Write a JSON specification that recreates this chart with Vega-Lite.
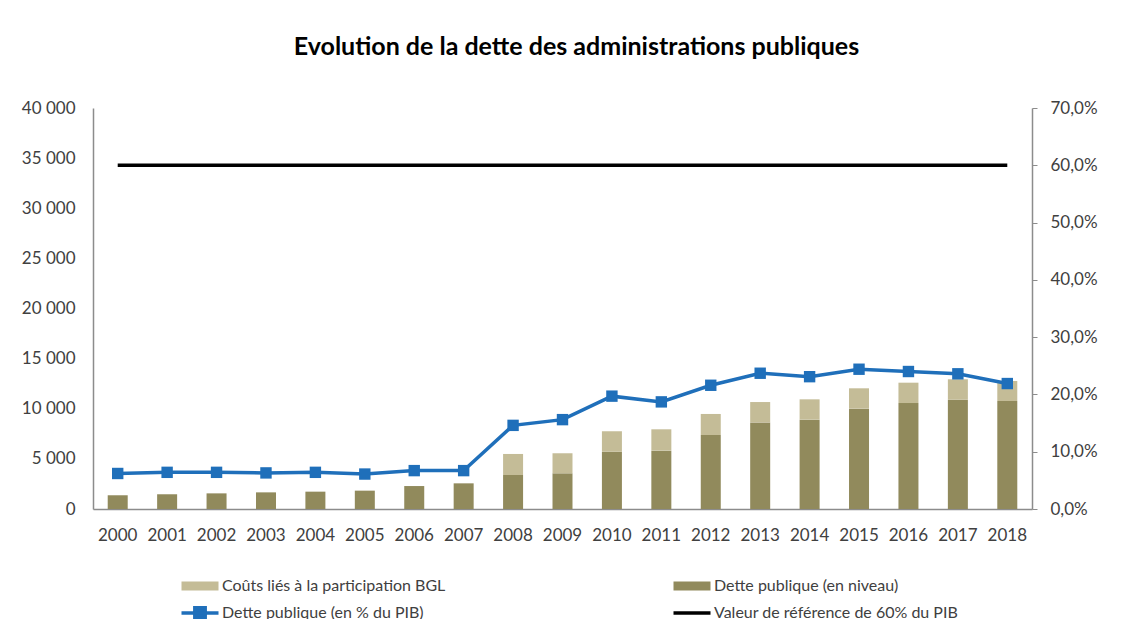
{
  "$schema": "https://vega.github.io/schema/vega-lite/v6.json",
  "width": 939,
  "height": 401,
  "autosize": {"type": "none"},
  "padding": {"left": 93, "top": 108, "right": 94, "bottom": 110},
  "background": "white",
  "config": {"view": {"stroke": null}, "font": "Lato"},
  "title": {
    "text": "Evolution de la dette des administrations publiques",
    "font": "Lato",
    "fontSize": 25,
    "fontWeight": "bold",
    "color": "#000000",
    "anchor": "middle",
    "offset": 39,
    "dx": 14
  },
  "datasets": {
    "bars": [
      {"year": "2000", "series": "Dette publique (en niveau)", "value": 1370, "ord": 1},
      {"year": "2001", "series": "Dette publique (en niveau)", "value": 1470, "ord": 1},
      {"year": "2002", "series": "Dette publique (en niveau)", "value": 1560, "ord": 1},
      {"year": "2003", "series": "Dette publique (en niveau)", "value": 1660, "ord": 1},
      {"year": "2004", "series": "Dette publique (en niveau)", "value": 1730, "ord": 1},
      {"year": "2005", "series": "Dette publique (en niveau)", "value": 1830, "ord": 1},
      {"year": "2006", "series": "Dette publique (en niveau)", "value": 2290, "ord": 1},
      {"year": "2007", "series": "Dette publique (en niveau)", "value": 2560, "ord": 1},
      {"year": "2008", "series": "Dette publique (en niveau)", "value": 3390, "ord": 1},
      {"year": "2009", "series": "Dette publique (en niveau)", "value": 3560, "ord": 1},
      {"year": "2010", "series": "Dette publique (en niveau)", "value": 5720, "ord": 1},
      {"year": "2011", "series": "Dette publique (en niveau)", "value": 5820, "ord": 1},
      {"year": "2012", "series": "Dette publique (en niveau)", "value": 7380, "ord": 1},
      {"year": "2013", "series": "Dette publique (en niveau)", "value": 8640, "ord": 1},
      {"year": "2014", "series": "Dette publique (en niveau)", "value": 8910, "ord": 1},
      {"year": "2015", "series": "Dette publique (en niveau)", "value": 10010, "ord": 1},
      {"year": "2016", "series": "Dette publique (en niveau)", "value": 10570, "ord": 1},
      {"year": "2017", "series": "Dette publique (en niveau)", "value": 10900, "ord": 1},
      {"year": "2018", "series": "Dette publique (en niveau)", "value": 10770, "ord": 1},
      {"year": "2008", "series": "Coûts liés à la participation BGL", "value": 2100, "ord": 2},
      {"year": "2009", "series": "Coûts liés à la participation BGL", "value": 2000, "ord": 2},
      {"year": "2010", "series": "Coûts liés à la participation BGL", "value": 2030, "ord": 2},
      {"year": "2011", "series": "Coûts liés à la participation BGL", "value": 2130, "ord": 2},
      {"year": "2012", "series": "Coûts liés à la participation BGL", "value": 2100, "ord": 2},
      {"year": "2013", "series": "Coûts liés à la participation BGL", "value": 2030, "ord": 2},
      {"year": "2014", "series": "Coûts liés à la participation BGL", "value": 2030, "ord": 2},
      {"year": "2015", "series": "Coûts liés à la participation BGL", "value": 2030, "ord": 2},
      {"year": "2016", "series": "Coûts liés à la participation BGL", "value": 2030, "ord": 2},
      {"year": "2017", "series": "Coûts liés à la participation BGL", "value": 2040, "ord": 2},
      {"year": "2018", "series": "Coûts liés à la participation BGL", "value": 2000, "ord": 2}
    ],
    "lines": [
      {"year": "2000", "series": "Dette publique (en % du PIB)", "pct": 6.2},
      {"year": "2001", "series": "Dette publique (en % du PIB)", "pct": 6.4},
      {"year": "2002", "series": "Dette publique (en % du PIB)", "pct": 6.4},
      {"year": "2003", "series": "Dette publique (en % du PIB)", "pct": 6.3},
      {"year": "2004", "series": "Dette publique (en % du PIB)", "pct": 6.4},
      {"year": "2005", "series": "Dette publique (en % du PIB)", "pct": 6.1},
      {"year": "2006", "series": "Dette publique (en % du PIB)", "pct": 6.7},
      {"year": "2007", "series": "Dette publique (en % du PIB)", "pct": 6.7},
      {"year": "2008", "series": "Dette publique (en % du PIB)", "pct": 14.6},
      {"year": "2009", "series": "Dette publique (en % du PIB)", "pct": 15.6},
      {"year": "2010", "series": "Dette publique (en % du PIB)", "pct": 19.7},
      {"year": "2011", "series": "Dette publique (en % du PIB)", "pct": 18.7},
      {"year": "2012", "series": "Dette publique (en % du PIB)", "pct": 21.6},
      {"year": "2013", "series": "Dette publique (en % du PIB)", "pct": 23.7},
      {"year": "2014", "series": "Dette publique (en % du PIB)", "pct": 23.1},
      {"year": "2015", "series": "Dette publique (en % du PIB)", "pct": 24.4},
      {"year": "2016", "series": "Dette publique (en % du PIB)", "pct": 24.0},
      {"year": "2017", "series": "Dette publique (en % du PIB)", "pct": 23.6},
      {"year": "2018", "series": "Dette publique (en % du PIB)", "pct": 21.9},
      {"year": "2000", "series": "Valeur de référence de 60% du PIB", "pct": 60},
      {"year": "2001", "series": "Valeur de référence de 60% du PIB", "pct": 60},
      {"year": "2002", "series": "Valeur de référence de 60% du PIB", "pct": 60},
      {"year": "2003", "series": "Valeur de référence de 60% du PIB", "pct": 60},
      {"year": "2004", "series": "Valeur de référence de 60% du PIB", "pct": 60},
      {"year": "2005", "series": "Valeur de référence de 60% du PIB", "pct": 60},
      {"year": "2006", "series": "Valeur de référence de 60% du PIB", "pct": 60},
      {"year": "2007", "series": "Valeur de référence de 60% du PIB", "pct": 60},
      {"year": "2008", "series": "Valeur de référence de 60% du PIB", "pct": 60},
      {"year": "2009", "series": "Valeur de référence de 60% du PIB", "pct": 60},
      {"year": "2010", "series": "Valeur de référence de 60% du PIB", "pct": 60},
      {"year": "2011", "series": "Valeur de référence de 60% du PIB", "pct": 60},
      {"year": "2012", "series": "Valeur de référence de 60% du PIB", "pct": 60},
      {"year": "2013", "series": "Valeur de référence de 60% du PIB", "pct": 60},
      {"year": "2014", "series": "Valeur de référence de 60% du PIB", "pct": 60},
      {"year": "2015", "series": "Valeur de référence de 60% du PIB", "pct": 60},
      {"year": "2016", "series": "Valeur de référence de 60% du PIB", "pct": 60},
      {"year": "2017", "series": "Valeur de référence de 60% du PIB", "pct": 60},
      {"year": "2018", "series": "Valeur de référence de 60% du PIB", "pct": 60}
    ]
  },
  "encoding": {
    "x": {
      "field": "year",
      "type": "ordinal",
      "scale": {"paddingInner": 0, "paddingOuter": 0},
      "axis": {
        "title": null,
        "labelAngle": 0,
        "labelFont": "Lato",
        "labelFontSize": 17,
        "labelColor": "#404040",
        "labelPadding": 18,
        "ticks": false,
        "domainColor": "#8c8c8c",
        "domainWidth": 1.5,
        "grid": false
      }
    }
  },
  "layer": [
    {
      "data": {"name": "bars"},
      "mark": {"type": "bar", "size": 20},
      "encoding": {
        "y": {
          "field": "value",
          "type": "quantitative",
          "stack": "zero",
          "scale": {"domain": [0, 40000], "nice": false},
          "axis": {
            "title": null,
            "orient": "left",
            "values": [0, 5000, 10000, 15000, 20000, 25000, 30000, 35000, 40000],
            "labelExpr": "replace(format(datum.value, ','), ',', ' ')",
            "labelFont": "Lato",
            "labelFontSize": 17,
            "labelColor": "#404040",
            "labelPadding": 18,
            "ticks": false,
            "grid": false,
            "domainColor": "#8c8c8c",
            "domainWidth": 1.5
          }
        },
        "color": {
          "field": "series",
          "type": "nominal",
          "scale": {
            "domain": ["Coûts liés à la participation BGL", "Dette publique (en niveau)", "Dette publique (en % du PIB)", "Valeur de référence de 60% du PIB"],
            "range": ["#c4bc97", "#918a5c", "#1f6fba", "#000000"]
          },
          "legend": {
            "title": null,
            "orient": "none",
            "legendX": 99,
            "legendY": 470,
            "direction": "horizontal",
            "columns": 2,
            "columnPadding": 220,
            "rowPadding": 6,
            "padding": 0,
            "labelFont": "Lato",
            "labelFontSize": 16,
            "labelColor": "#404040",
            "labelOffset": 14,
            "labelLimit": 400,
            "symbolSize": 1369,
            "encode": {
              "symbols": {
                "update": {
                  "shape": {"signal": "datum.value === 'Dette publique (en % du PIB)' ? 'M-1,0H1M-0.28,-0.28H0.28V0.28H-0.28Z' : (datum.value === 'Valeur de référence de 60% du PIB' ? 'M-1,0H1' : 'M-1,-0.24H1V0.24H-1Z')"},
                  "fill": {"scale": "color", "field": "value"},
                  "stroke": {"scale": "color", "field": "value"},
                  "strokeWidth": {"signal": "datum.value === 'Dette publique (en % du PIB)' || datum.value === 'Valeur de référence de 60% du PIB' ? 3.5 : 0"},
                  "opacity": {"value": 1},
                  "fillOpacity": {"value": 1},
                  "strokeOpacity": {"value": 1}
                }
              }
            }
          }
        },
        "order": {"field": "ord", "type": "quantitative"}
      }
    },
    {
      "data": {"name": "lines"},
      "encoding": {
        "y": {
          "field": "pct",
          "type": "quantitative",
          "scale": {"domain": [0, 70], "nice": false},
          "axis": {
            "title": null,
            "orient": "right",
            "values": [0, 10, 20, 30, 40, 50, 60, 70],
            "labelExpr": "replace(format(datum.value, '.1f'), '.', ',') + '%'",
            "labelFont": "Lato",
            "labelFontSize": 17,
            "labelColor": "#404040",
            "labelPadding": 13,
            "ticks": true,
            "tickSize": 5,
            "tickColor": "#8c8c8c",
            "grid": false,
            "domainColor": "#8c8c8c",
            "domainWidth": 1.5
          }
        },
        "color": {"field": "series", "type": "nominal"}
      },
      "layer": [
        {"mark": {"type": "line", "strokeWidth": 3.5}},
        {
          "transform": [{"filter": "datum.series === 'Dette publique (en % du PIB)'"}],
          "mark": {"type": "point", "shape": "square", "filled": true, "size": 130, "opacity": 1}
        }
      ]
    }
  ],
  "resolve": {"scale": {"y": "independent"}}
}
